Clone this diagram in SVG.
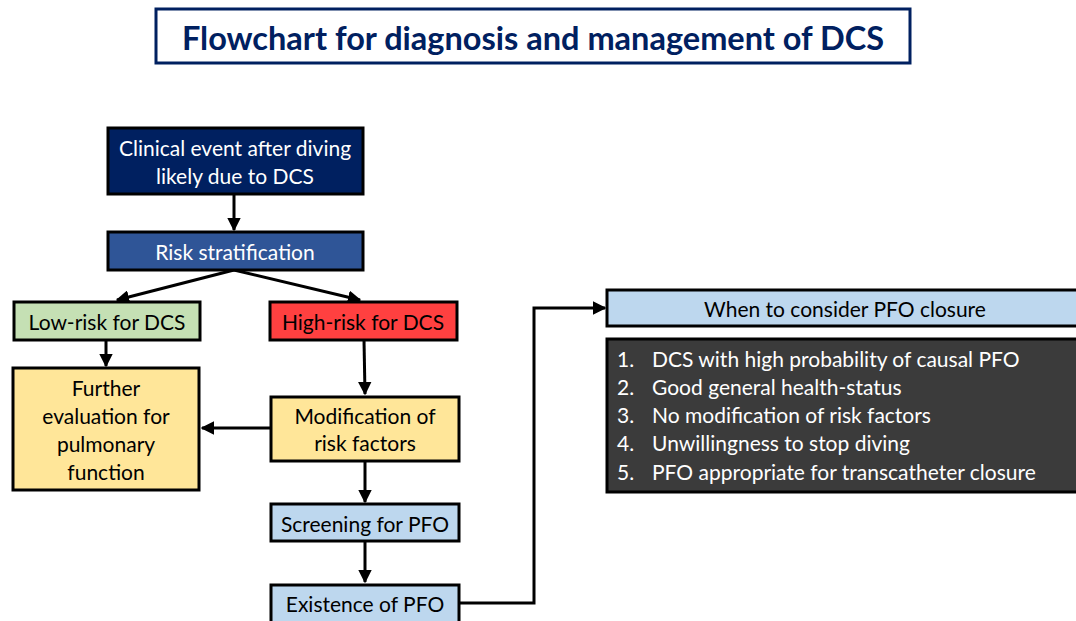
<svg xmlns="http://www.w3.org/2000/svg" width="1076" height="621" viewBox="0 0 1076 621">
  <defs>
    <marker id="arrow" viewBox="0 0 10 10" refX="9" refY="5" markerWidth="4.5" markerHeight="4.5" orient="auto" markerUnits="strokeWidth">
      <path d="M0,0 L10,5 L0,10 Z" fill="#000"/>
    </marker>
    <style>
      text { font-family: Lato, "Open Sans", "Liberation Sans", sans-serif; font-size: 21px; text-anchor: middle; dominant-baseline: central; }
      .box { stroke: #000; stroke-width: 3; }
      .navy { fill: #002060; }
      .blue { fill: #2F5597; }
      .green { fill: #C5E0B4; }
      .red { fill: #FF4040; }
      .yellow { fill: #FFE699; }
      .light { fill: #BDD7EE; }
      .dark { fill: #3B3B3B; }
      .white { fill: #FFFFFF; }
      .ink { fill: #000; }
      .list { text-anchor: start; fill: #FFFFFF; }
      .conn { fill: none; stroke: #000; stroke-width: 3; }
    </style>
  </defs>
  <rect width="1076" height="621" fill="#FFFFFF"/>

  <!-- Title -->
  <g id="title">
    <rect x="156" y="9" width="754" height="54" fill="#FFFFFF" stroke="#002060" stroke-width="3"/>
    <text x="533" y="37" style="font-size:32.5px;font-weight:bold;fill:#002060">Flowchart for diagnosis and management of DCS</text>
  </g>

  <!-- Connectors -->
  <g id="connectors">
    <path class="conn" d="M234,194 V230" marker-end="url(#arrow)"/>
    <path class="conn" d="M234,270 L117,300" marker-end="url(#arrow)"/>
    <path class="conn" d="M234,270 L360,300" marker-end="url(#arrow)"/>
    <path class="conn" d="M106,340 V366" marker-end="url(#arrow)"/>
    <path class="conn" d="M364,340 L365,394" marker-end="url(#arrow)"/>
    <path class="conn" d="M270,428 H202" marker-end="url(#arrow)"/>
    <path class="conn" d="M365,461 V502" marker-end="url(#arrow)"/>
    <path class="conn" d="M365,541 V582" marker-end="url(#arrow)"/>
    <path class="conn" d="M459,603 H534 V308 H605" marker-end="url(#arrow)"/>
  </g>

  <g id="clinical-event">
    <rect class="box navy" x="108" y="128" width="255" height="66"/>
    <text class="white" x="235" y="147">Clinical event after diving</text>
    <text class="white" x="235" y="175">likely due to DCS</text>
  </g>

  <g id="risk-stratification">
    <rect class="box blue" x="108" y="232" width="255" height="38"/>
    <text class="white" x="235" y="251">Risk stratification</text>
  </g>

  <g id="low-risk">
    <rect class="box green" x="14" y="302" width="186" height="38"/>
    <text class="ink" x="107" y="321">Low-risk for DCS</text>
  </g>

  <g id="high-risk">
    <rect class="box red" x="270" y="302" width="187" height="38"/>
    <text class="ink" x="363" y="321">High-risk for DCS</text>
  </g>

  <g id="further-evaluation">
    <rect class="box yellow" x="13" y="368" width="186" height="122"/>
    <text class="ink" x="106" y="387">Further</text>
    <text class="ink" x="106" y="415">evaluation for</text>
    <text class="ink" x="106" y="443">pulmonary</text>
    <text class="ink" x="106" y="471">function</text>
  </g>

  <g id="modification">
    <rect class="box yellow" x="271" y="397" width="188" height="64"/>
    <text class="ink" x="365" y="415">Modification of</text>
    <text class="ink" x="365" y="442">risk factors</text>
  </g>

  <g id="screening">
    <rect class="box light" x="271" y="504" width="188" height="37"/>
    <text class="ink" x="365" y="523">Screening for PFO</text>
  </g>

  <g id="existence">
    <rect class="box light" x="271" y="585" width="188" height="40"/>
    <text class="ink" x="365" y="603">Existence of PFO</text>
  </g>

  <g id="pfo-closure">
    <rect class="box light" x="607" y="290" width="475" height="36"/>
    <text class="ink" x="845" y="308">When to consider PFO closure</text>
  </g>

  <g id="criteria">
    <rect class="box dark" x="607" y="339" width="475" height="153"/>
    <text class="list" x="617" y="358">1.</text>
    <text class="list" x="652" y="358">DCS with high probability of causal PFO</text>
    <text class="list" x="617" y="386">2.</text>
    <text class="list" x="652" y="386">Good general health-status</text>
    <text class="list" x="617" y="414">3.</text>
    <text class="list" x="652" y="414">No modification of risk factors</text>
    <text class="list" x="617" y="442">4.</text>
    <text class="list" x="652" y="442">Unwillingness to stop diving</text>
    <text class="list" x="617" y="471">5.</text>
    <text class="list" x="652" y="471">PFO appropriate for transcatheter closure</text>
  </g>
</svg>
